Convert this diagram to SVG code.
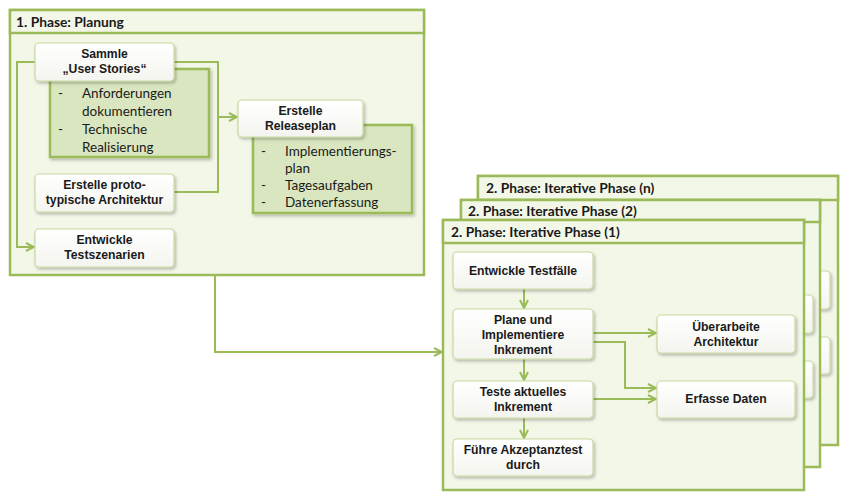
<svg xmlns="http://www.w3.org/2000/svg" width="853" height="501" viewBox="0 0 853 501">
<defs>
  <linearGradient id="nodeGrad" x1="0" y1="0" x2="0" y2="1">
    <stop offset="0" stop-color="#ffffff"/>
    <stop offset="1" stop-color="#f4f4ef"/>
  </linearGradient>
  <filter id="shadow" x="-10%" y="-10%" width="125%" height="135%">
    <feDropShadow dx="1.5" dy="2" stdDeviation="1.5" flood-color="#000" flood-opacity="0.25"/>
  </filter>
  <marker id="arrow" viewBox="0 0 10 10" refX="9" refY="5" markerWidth="10" markerHeight="10" markerUnits="userSpaceOnUse" orient="auto">
    <path d="M1,1 L9,5 L1,9" fill="none" stroke="#9bbb59" stroke-width="2"/>
  </marker>
</defs>
<style>
  .frame { fill: #f3f7e8; stroke: #9bbb59; stroke-width: 2.5; }
  .hdr { fill: #f3f7e8; stroke: #9bbb59; stroke-width: 2.5; }
  .hdrtxt { font-family: Lato, "Liberation Sans", sans-serif; font-weight: bold; font-size: 13.8px; fill: #1a1a1a; }
  .node { fill: url(#nodeGrad); stroke: #c8da9f; stroke-width: 1.2; filter: url(#shadow); }
  .detail { fill: #d9e6bf; stroke: #9bbb59; stroke-width: 2.5; filter: url(#shadow); }
  .ntxt { font-family: "Liberation Sans", Arial, sans-serif; font-weight: bold; font-size: 12.2px; fill: #1a1a1a; text-anchor: middle; }
  .btxt { font-family: Lato, "Liberation Sans", sans-serif; font-size: 13.5px; fill: #1a1a1a; }
  .conn { fill: none; stroke: #9bbb59; stroke-width: 2; }
</style>

<!-- Phase 1 frame -->
<g id="phase1">
  <rect class="frame" x="10" y="10" width="414" height="265"/>
  <rect class="hdr" x="10" y="10" width="414" height="23"/>
  <text class="hdrtxt" x="16" y="26.5">1. Phase: Planung</text>
</g>

<!-- Back frames -->
<g id="phase-n">
  <rect class="frame" x="478" y="176" width="360" height="269"/>
  <rect class="hdr" x="478" y="176" width="360" height="24"/>
  <text class="hdrtxt" x="486" y="193">2. Phase: Iterative Phase (n)</text>
  <rect class="node" x="692" y="271" width="138" height="38" rx="4"/>
  <rect class="node" x="692" y="337" width="138" height="37" rx="4"/>
</g>
<g id="phase-2">
  <rect class="frame" x="461" y="200" width="359" height="267"/>
  <rect class="hdr" x="461" y="200" width="359" height="22"/>
  <text class="hdrtxt" x="468" y="216">2. Phase: Iterative Phase (2)</text>
  <rect class="node" x="675" y="295" width="138" height="38" rx="4"/>
  <rect class="node" x="675" y="361" width="138" height="37" rx="4"/>
</g>
<g id="phase-1">
  <rect class="frame" x="443" y="220" width="361" height="270"/>
  <rect class="hdr" x="443" y="220" width="361" height="23"/>
  <text class="hdrtxt" x="451" y="237">2. Phase: Iterative Phase (1)</text>
</g>

<!-- Connectors -->
<g id="connectors">
  <path class="conn" d="M174,62 H218 V192 H174"/>
  <path class="conn" d="M218,117 H237" marker-end="url(#arrow)"/>
  <path class="conn" d="M35,62 H17 V247 H34" marker-end="url(#arrow)"/>
  <path class="conn" d="M215,275 V352 H442" marker-end="url(#arrow)"/>
  <path class="conn" d="M524,289 V308" marker-end="url(#arrow)"/>
  <path class="conn" d="M524,359 V380" marker-end="url(#arrow)"/>
  <path class="conn" d="M524,418 V438" marker-end="url(#arrow)"/>
  <path class="conn" d="M593,333 H656" marker-end="url(#arrow)"/>
  <path class="conn" d="M593,342 H625 V388 H656" marker-end="url(#arrow)"/>
  <path class="conn" d="M593,399 H656" marker-end="url(#arrow)"/>
</g>

<!-- Phase 1 nodes -->
<g id="sammle-details">
  <rect class="detail" x="50" y="69" width="159" height="88"/>
  <text class="btxt" x="58" y="98">-</text>
  <text class="btxt" x="82" y="98">Anforderungen</text>
  <text class="btxt" x="82" y="116">dokumentieren</text>
  <text class="btxt" x="58" y="134">-</text>
  <text class="btxt" x="82" y="134">Technische</text>
  <text class="btxt" x="82" y="152">Realisierung</text>
</g>
<g id="sammle">
  <rect class="node" x="35" y="43" width="139" height="38" rx="4"/>
  <text class="ntxt" x="104.5" y="58">Sammle</text>
  <text class="ntxt" x="104.5" y="73">„User Stories“</text>
</g>
<g id="release-details">
  <rect class="detail" x="253" y="125" width="159" height="88"/>
  <text class="btxt" x="261" y="156">-</text>
  <text class="btxt" x="285" y="156">Implementierungs-</text>
  <text class="btxt" x="285" y="173">plan</text>
  <text class="btxt" x="261" y="190">-</text>
  <text class="btxt" x="285" y="190">Tagesaufgaben</text>
  <text class="btxt" x="261" y="207">-</text>
  <text class="btxt" x="285" y="207">Datenerfassung</text>
</g>
<g id="release">
  <rect class="node" x="238" y="100" width="125" height="37" rx="4"/>
  <text class="ntxt" x="300.5" y="115">Erstelle</text>
  <text class="ntxt" x="300.5" y="130">Releaseplan</text>
</g>
<g id="proto">
  <rect class="node" x="35" y="174" width="139" height="38" rx="4"/>
  <text class="ntxt" x="104.5" y="189">Erstelle proto-</text>
  <text class="ntxt" x="104.5" y="204">typische Architektur</text>
</g>
<g id="testszenarien">
  <rect class="node" x="35" y="229" width="139" height="38" rx="4"/>
  <text class="ntxt" x="104.5" y="244">Entwickle</text>
  <text class="ntxt" x="104.5" y="259">Testszenarien</text>
</g>

<!-- Phase 2 (1) nodes -->
<g id="testfaelle">
  <rect class="node" x="453" y="252" width="140" height="37" rx="4"/>
  <text class="ntxt" x="523" y="275">Entwickle Testfälle</text>
</g>
<g id="plane">
  <rect class="node" x="453" y="309" width="140" height="50" rx="4"/>
  <text class="ntxt" x="523" y="324">Plane und</text>
  <text class="ntxt" x="523" y="339">Implementiere</text>
  <text class="ntxt" x="523" y="354">Inkrement</text>
</g>
<g id="teste">
  <rect class="node" x="453" y="381" width="140" height="37" rx="4"/>
  <text class="ntxt" x="523" y="396">Teste aktuelles</text>
  <text class="ntxt" x="523" y="411">Inkrement</text>
</g>
<g id="akzeptanz">
  <rect class="node" x="453" y="439" width="140" height="37" rx="4"/>
  <text class="ntxt" x="523" y="454">Führe Akzeptanztest</text>
  <text class="ntxt" x="523" y="469">durch</text>
</g>
<g id="ueberarbeite">
  <rect class="node" x="657" y="315" width="138" height="38" rx="4"/>
  <text class="ntxt" x="726" y="331">Überarbeite</text>
  <text class="ntxt" x="726" y="346">Architektur</text>
</g>
<g id="erfasse">
  <rect class="node" x="657" y="381" width="138" height="37" rx="4"/>
  <text class="ntxt" x="726" y="403">Erfasse Daten</text>
</g>
</svg>
